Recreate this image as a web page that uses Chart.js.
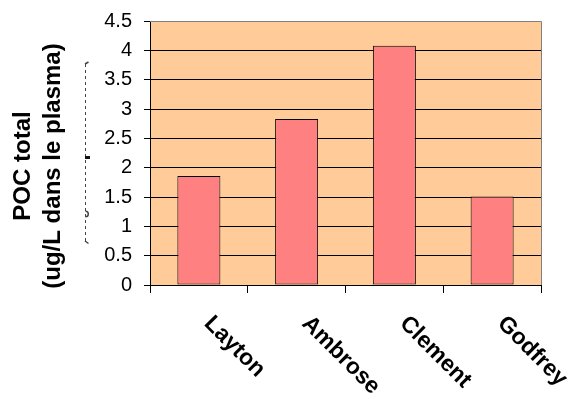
<!DOCTYPE html>
<html>
<head>
<meta charset="utf-8">
<script src="https://cdn.jsdelivr.net/npm/chart.js@4/dist/chart.umd.min.js"></script>
<style>
  html, body { margin: 0; padding: 0; background: #ffffff; }
  #wrap { width: 572px; height: 397px; }
</style>
</head>
<body>
<div id="wrap"><canvas id="chart" width="572" height="397"></canvas></div>
<script>
// Sites and total POC measured in plasma
const categories = ['Layton', 'Ambrose', 'Clement', 'Godfrey'];
const pocValues = [1.86, 2.83, 4.08, 1.51];
const yMin = 0;
const yMax = 4.5;
const yStep = 0.5;
const yTitleLines = ['POC total', '(ug/L dans le plasma)'];

const FONT = '"Liberation Sans", Arial, Helvetica, sans-serif';

// Plot-area fill, frame, axis title and slanted category labels
const decorations = {
  id: 'decorations',
  beforeDraw(chart) {
    const { ctx, chartArea: a } = chart;
    ctx.save();
    ctx.fillStyle = '#FFCC99';
    ctx.fillRect(a.left, a.top, a.right - a.left, a.bottom - a.top);
    ctx.restore();
  },
  afterDraw(chart) {
    const { ctx, chartArea: a } = chart;
    const xs = chart.scales.x;
    ctx.save();

    // grey frame on top and right
    ctx.strokeStyle = '#808080';
    ctx.lineWidth = 1;
    ctx.beginPath();
    ctx.moveTo(a.left, Math.round(a.top) + 0.5);
    ctx.lineTo(Math.round(a.right) + 0.5, Math.round(a.top) + 0.5);
    ctx.lineTo(Math.round(a.right) + 0.5, a.bottom);
    ctx.stroke();

    // faint dashed remnant beside the axis
    ctx.strokeStyle = '#444';
    ctx.setLineDash([3, 3]);
    ctx.beginPath();
    ctx.moveTo(85.5, 64);
    ctx.lineTo(85.5, 241);
    ctx.stroke();
    ctx.setLineDash([]);
    ctx.lineWidth = 1.5;
    ctx.beginPath();
    ctx.moveTo(85, 64); ctx.lineTo(88.5, 62);
    ctx.moveTo(85, 241); ctx.lineTo(88.5, 243.5);
    ctx.stroke();
    ctx.fillStyle = '#111';
    ctx.fillRect(85, 156, 5, 3);
    ctx.beginPath();
    ctx.arc(85.5, 214, 2.8, -Math.PI / 2, Math.PI / 2);
    ctx.stroke();

    // axis title, two lines
    ctx.fillStyle = '#000';
    ctx.font = 'bold 24px ' + FONT;
    ctx.textAlign = 'center';
    ctx.textBaseline = 'middle';
    const titleX = [23, 53];
    yTitleLines.forEach((line, i) => {
      ctx.save();
      ctx.translate(titleX[i], 166);
      ctx.rotate(-Math.PI / 2);
      ctx.fillText(line, 0, 0);
      ctx.restore();
    });

    // category labels slanted downwards
    ctx.font = 'bold 23px ' + FONT;
    ctx.textAlign = 'left';
    ctx.textBaseline = 'top';
    categories.forEach((label, i) => {
      const x = xs.getPixelForValue(i);
      ctx.save();
      ctx.translate(x + 17, 312);
      ctx.rotate(Math.PI / 4);
      ctx.fillText(label, 0, 0);
      ctx.restore();
    });
    ctx.restore();
  }
};

new Chart(document.getElementById('chart'), {
  type: 'bar',
  data: {
    labels: categories,
    datasets: [{
      data: pocValues,
      backgroundColor: '#FF8080',
      borderColor: '#000000',
      borderWidth: 1,
      borderSkipped: false,
      categoryPercentage: 1,
      barPercentage: 0.44
    }]
  },
  options: {
    responsive: false,
    animation: false,
    devicePixelRatio: 1,
    layout: { padding: { top: 21, right: 31, left: 0, bottom: 0 } },
    plugins: {
      legend: { display: false },
      tooltip: { enabled: false },
      title: { display: false }
    },
    scales: {
      x: {
        ticks: { display: false },
        grid: {
          offset: true,
          drawOnChartArea: false,
          drawTicks: true,
          tickLength: 8,
          tickColor: '#000',
          lineWidth: 1
        },
        border: { display: true, color: '#000', width: 1 },
        afterFit(scale) { scale.height = 112; }
      },
      y: {
        min: yMin,
        max: yMax,
        ticks: {
          stepSize: yStep,
          color: '#000',
          padding: 12,
          font: { family: FONT, size: 20 },
          callback: (v) => String(Math.round(v * 10) / 10)
        },
        grid: {
          color: (c) => (c.tick && c.tick.value === yMax ? '#808080' : '#000000'),
          tickColor: '#000',
          tickLength: 6,
          lineWidth: 1,
          drawTicks: true
        },
        border: { display: true, color: '#000', width: 1 },
        afterFit(scale) {
          scale.width = 150;
          scale.paddingTop = 12;
          scale.paddingBottom = 0;
        }
      }
    }
  },
  plugins: [decorations]
});
</script>
</body>
</html>
